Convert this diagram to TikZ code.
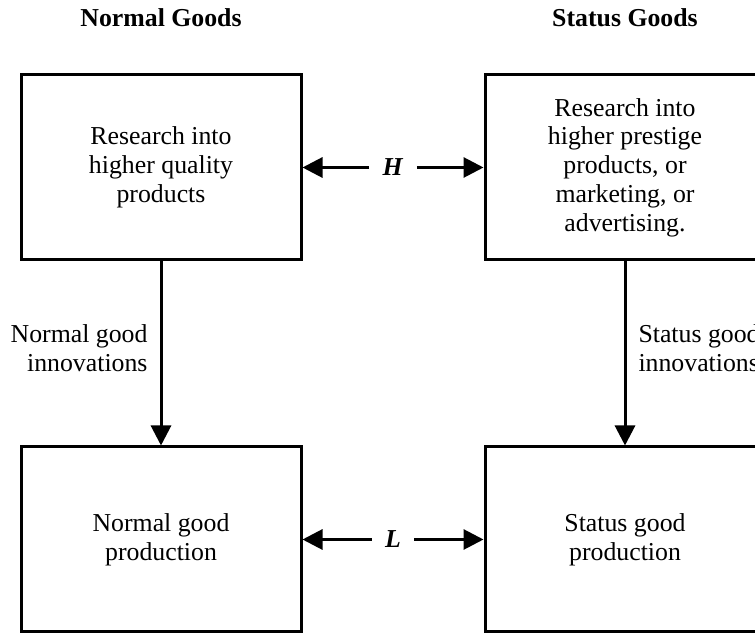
\documentclass[tikz,border=0pt]{standalone}
\usepackage{fontspec}
\setmainfont{Liberation Serif}
\usepackage{tikz}
\usetikzlibrary{arrows.meta}

\begin{document}
\begin{tikzpicture}[x=0.5pt,y=-0.5pt,
  font=\fontsize{12.9}{14.4}\selectfont,
  box/.style={draw,line width=1.5pt,minimum width=140pt,minimum height=92.5pt,align=center},
  head/.style={font=\fontsize{12.9}{14.4}\selectfont\bfseries},
  arr/.style={line width=1.5pt,-{Triangle[length=10pt,width=10pt]}}]
  \useasboundingbox (0,0) rectangle (755,635);
  \clip (0,0) rectangle (755,635);
  \node [head] (nhead) at (161,18) {Normal Goods};
  \node [head] (shead) at (625,18) {Status Goods};
  \node [box] (nres) at (161,167.5) {Research into\\higher quality\\products};
  \node [box] (sres) at (625,167.5) {Research into\\higher prestige\\products, or\\marketing, or\\advertising.};
  \node [box] (nprod) at (161,539.5) {Normal good\\production};
  \node [box] (sprod) at (625,539.5) {Status good\\production};
  \path (nres) -- (sres) node (h) [midway,inner xsep=6.5pt] {\textbf{\textit{H}}};
  \path (nprod) -- (sprod) node (l) [midway,inner xsep=6.5pt] {\textbf{\textit{L}}};
  \draw [arr] (h) -- (nres);
  \draw [arr] (h) -- (sres);
  \draw [arr] (l) -- (nprod);
  \draw [arr] (l) -- (sprod);
  \draw [arr] (nres) -- node [pos=0.47,left,align=right,inner xsep=6pt] {Normal good\\innovations} (nprod);
  \draw [arr] (sres) -- node [pos=0.47,right,align=left,inner xsep=6pt] {Status good\\innovations} (sprod);
\end{tikzpicture}
\end{document}
